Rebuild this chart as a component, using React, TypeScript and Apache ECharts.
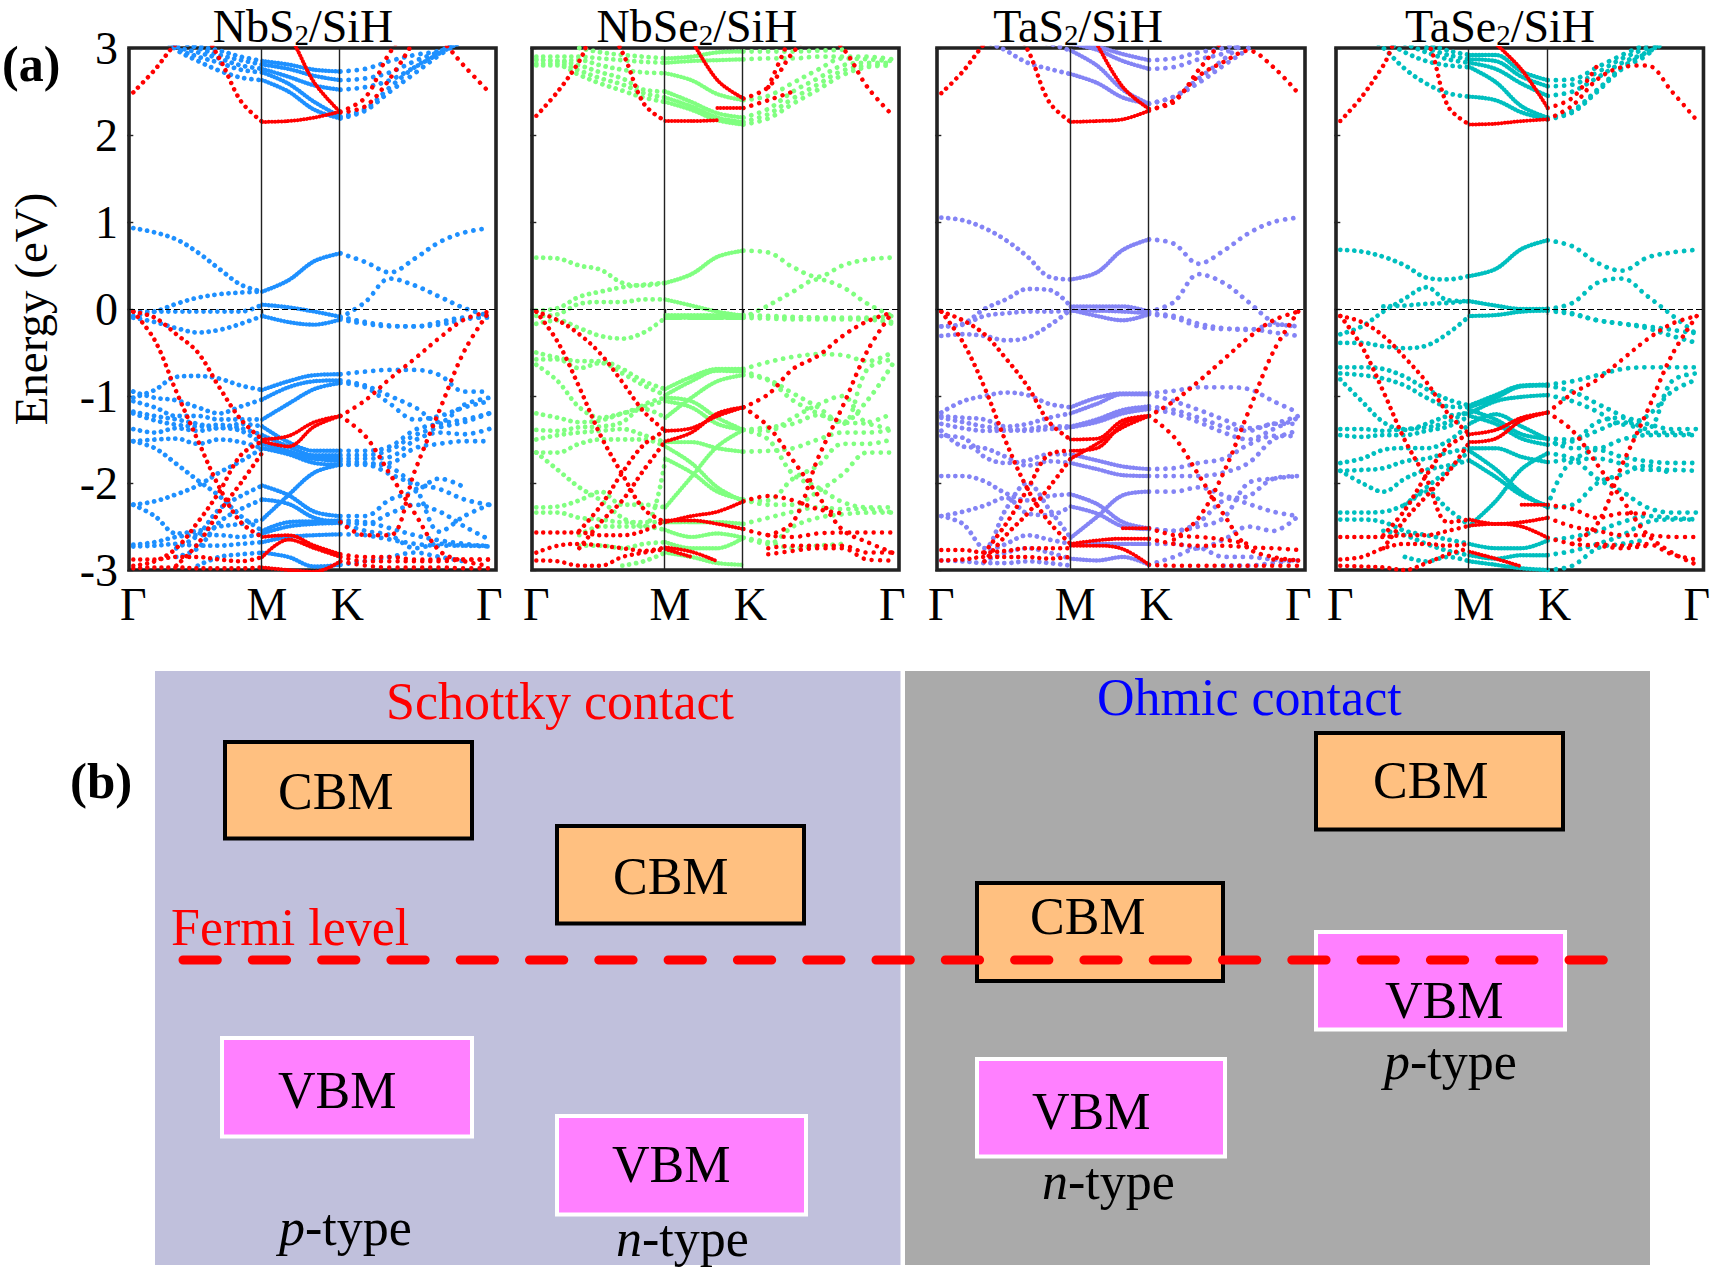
import React, { useEffect, useRef } from "react";
import * as echarts from "echarts";

const _ = null;
const SERIF = '"Liberation Serif"';

// k-path positions of the read values: Γ … M … K … Γ
const kNodes = [0, 0.0604, 0.1208, 0.1813, 0.2417, 0.3021, 0.3625, 0.4357, 0.5088, 0.582, 0.6517, 0.7213, 0.791, 0.8607, 0.9303, 1];
const kM = 0.3625;
const kK = 0.582;
const energyTicks = [-3, -2, -1, 0, 1, 2, 3];
const panelNames = ["NbS|2|/SiH", "NbSe|2|/SiH", "TaS|2|/SiH", "TaSe|2|/SiH"];

const nbs2Bands = [
  [3.3,3.2,2.98,2.85,2.74,2.66,2.63,2.5,2.29,2.19,2.28,2.5,2.71,2.92,3.1,3.3],
  [3.3,3.2,3.0,2.9,2.83,2.75,2.72,2.59,2.38,2.21,2.3,2.55,2.78,2.95,3.1,3.3],
  [3.4,3.2,3.02,2.95,2.88,2.8,2.76,2.67,2.57,2.52,2.55,2.63,2.78,2.94,3.1,3.3],
  [3.4,3.3,3.1,3.0,2.92,2.86,2.81,2.76,2.68,2.63,2.65,2.72,2.85,2.96,3.1,3.3],
  [3.4,3.3,3.1,3.02,2.97,2.9,2.85,2.81,2.75,2.73,2.76,2.85,2.92,2.97,3.1,3.3],
  [.93,.88,.8,.65,.46,.28,.2,.33,.55,.64,.54,.42,.58,.77,.88,.93],
  [-.08,-.03,.06,.13,.17,.19,.2,_,_,-.1,.08,.35,.27,.14,.01,-.08],
  [-.03,-.03,-.03,-.03,-.03,-.03,.05,.02,-.03,-.09,-.15,-.19,-.2,-.18,-.12,-.08],
  [-.1,-.15,-.22,-.27,-.24,-.17,-.08,-.15,-.18,-.12,-.17,-.2,-.2,-.15,-.1,-.1],
  [-1.02,-.93,-.78,-.77,-.8,-.88,-.93,-.83,-.76,-.75,-.72,-.7,-.7,-.76,-.95,-.95],
  [-.95,-1.02,-1.05,-1.13,-1.2,-1.12,-1.04,-.9,-.83,-.82,-.88,-1.0,-1.13,-1.3,-1.1,-1.02],
  [-1.06,-1.13,-1.23,-1.23,-1.27,-1.27,-1.27,-1.09,-.92,-.85,-.9,-1.09,-1.27,-1.23,-1.13,-1.06],
  [-1.18,-1.23,-1.27,-1.32,-1.37,-1.32,-1.35,-1.53,-1.63,-1.63,-1.63,-1.58,-1.39,-1.32,-1.27,-1.2],
  [-1.2,-1.28,-1.33,-1.35,-1.33,-1.37,-1.45,-1.58,-1.68,-1.68,-1.68,-1.62,-1.45,-1.36,-1.3,-1.2],
  [-1.38,-1.42,-1.37,-1.4,-1.37,-1.4,-1.55,-1.63,-1.72,-1.72,-1.72,-1.7,-1.51,-1.42,-1.44,-1.38],
  [-1.52,-1.5,-1.49,-1.55,-1.5,-1.53,-1.6,-1.67,-1.77,-1.79,-1.78,-1.77,-1.6,-1.55,-1.52,-1.52],
  [-1.52,-1.6,-1.78,-1.97,-2.15,-2.38,-2.55,-2.45,-2.44,-2.43,-2.45,-2.52,-2.6,-2.66,-2.7,-2.73],
  [-2.25,-2.21,-2.13,-2.03,-1.88,-1.75,-1.6,-1.65,-1.72,-1.75,-1.77,-1.82,-2.0,-2.07,-2.19,-2.25],
  [-2.25,-2.38,-2.58,-2.55,-2.5,-2.47,-2.42,-2.14,-1.88,-1.79,-1.79,-1.9,-2.05,-2.56,-2.38,-2.25],
  [_,_,-2.75,-2.6,-2.3,-2.15,-2.03,-2.14,-2.33,-2.38,-2.38,-2.19,-2.1,-1.95,-2.05,_],
  [_,_,-2.85,-2.75,-2.45,-2.3,-2.19,-2.24,-2.4,-2.45,-2.47,-2.35,-2.25,-2.33,-2.5,-2.65],
  [-2.73,-2.72,-2.7,-2.72,-2.72,-2.7,-2.68,-2.62,-2.6,-2.59,-2.6,-2.65,-2.7,-2.72,-2.72,-2.73],
  [-2.71,-2.68,-2.62,-2.6,-2.6,-2.62,-2.58,-2.5,-2.47,-2.46,-2.55,-2.6,-2.75,-2.7,-2.72,-2.72],
  [_,_,_,-2.95,-2.85,-2.82,-2.8,-2.85,-2.96,-2.94,-2.9,-2.85,-2.8,-2.85,-2.9,_],
];
const nbs2Red = [
  [2.49,2.75,3.05,3.2,2.88,2.39,2.15,2.16,2.2,2.27,2.43,2.95,3.25,3.1,2.79,2.49],
  [_,_,_,_,_,_,3.4,3.15,2.6,2.26,2.33,2.65,3.1,_,_,_],
  [-.03,-.1,-.29,-.5,-.9,-1.27,-1.5,-1.46,-1.3,-1.23,-1.05,-.8,-.57,-.33,-.12,-.03],
  [-.03,-.36,-.95,-1.51,-2.05,-2.45,-2.62,-2.6,-2.72,-2.82,-2.85,-2.85,-2.88,-2.88,-2.88,-2.88],
  [-2.95,-2.9,-2.75,-2.45,-2.1,-1.68,-1.52,-1.58,-1.35,-1.23,-1.46,-1.9,-2.35,-2.78,-2.9,-2.95],
  [_,_,-2.95,-2.7,-2.33,-2.0,-1.65,_,_,-2.45,-2.6,-2.6,-1.86,-1.16,-.48,-.03],
  [-2.88,-2.88,-2.85,-2.85,-2.88,-2.9,-2.85,-2.65,-2.75,-2.85,-2.9,-2.9,-2.9,-2.9,-2.88,-2.88],
  [-2.98,-2.97,-2.97,-2.98,-2.98,-2.98,-2.97,-3.0,-3.02,-2.9,-2.95,-2.97,-2.97,-2.97,-2.98,-2.98],
];

const nbse2Bands = [
  [2.8,2.8,2.69,2.59,2.51,2.43,2.38,2.29,2.17,2.12,2.19,2.36,2.52,2.69,2.78,2.8],
  [2.82,2.82,2.74,2.65,2.58,2.48,2.43,2.33,2.2,2.15,2.24,2.42,2.58,2.74,2.8,2.82],
  [2.86,2.85,2.8,2.72,2.65,2.52,2.5,2.38,2.25,2.2,2.3,2.5,2.65,2.8,2.83,2.83],
  [2.87,2.85,2.86,2.8,2.75,2.72,2.71,2.63,2.47,2.4,2.45,2.6,2.75,2.88,2.87,2.85],
  [2.9,2.9,2.9,2.88,2.86,2.84,2.83,2.85,2.86,2.87,2.88,2.88,2.9,2.9,2.9,2.87],
  [_,_,3.0,2.95,2.92,2.9,2.88,2.9,2.95,2.96,2.96,2.96,2.97,2.98,_,_],
  [.59,.58,.5,.45,.3,.27,.3,.4,.6,.67,.65,.48,.37,.5,.57,.59],
  [-.02,.01,.14,.2,.25,.28,.3,_,_,-.1,.04,.2,.34,.25,.06,-.08],
  [-.08,-.06,.06,.08,.08,.11,.11,.04,-.03,-.08,-.09,-.1,-.1,-.1,-.1,-.08],
  [-.17,-.13,-.22,-.31,-.34,-.27,-.1,-.1,-.1,-.1,-.11,-.12,-.12,-.12,-.12,-.17],
  [_,_,_,_,_,_,-.07,-.07,-.07,-.07,-.08,-.09,-.1,-.11,-.11,-.15],
  [-.5,-.56,-.6,-.6,-.69,-.83,-.92,-.78,-.69,-.69,-.61,-.55,-.52,-.53,-.6,-.5],
  [-.58,-.58,-.68,-.62,-.74,-.88,-.99,-.83,-.71,-.72,-.81,-.97,-1.13,-1.32,-.69,-.58],
  [-.64,-.83,-1.13,-1.25,-1.2,-1.15,-1.25,-1.02,-.83,-.76,-.82,-1.05,-1.2,-1.3,-1.05,-.64],
  [-1.2,-1.25,-1.3,-1.28,-1.2,-1.12,-1.06,-1.13,-1.32,-1.39,-1.4,-1.25,-1.1,-1.0,-1.3,-1.2],
  [-1.39,-1.4,-1.36,-1.35,-1.3,-1.1,-1.02,-1.06,-1.25,-1.39,-1.36,-1.32,-1.22,-1.3,-1.32,-1.39],
  [-1.5,-1.45,-1.42,-1.4,-1.38,-1.45,-1.53,-1.53,-1.6,-1.64,-1.63,-1.6,-1.5,-1.42,-1.42,-1.39],
  [-1.65,-1.65,-1.55,-1.5,-1.5,-1.5,-1.58,-1.77,-2.05,-2.21,-2.2,-1.95,-1.8,-1.55,-1.55,-1.5],
  [-1.65,-1.85,-2.05,-2.2,-2.4,-2.5,-1.72,-1.88,-2.1,-2.19,-2.25,-2.25,-2.1,-1.9,-1.65,-1.65],
  [-2.28,-2.27,-2.2,-2.1,-2.25,-2.25,-2.28,-1.93,-1.58,-1.39,-1.5,-1.9,-2.05,-2.22,-2.28,-2.28],
  [-2.34,-2.34,-2.4,-2.42,-2.45,-2.45,-2.45,-2.45,-2.45,-2.47,-2.4,-2.33,-2.28,-2.3,-2.3,-2.34],
  [_,_,-2.6,-2.5,-2.5,-2.5,-2.54,-2.62,-2.58,-2.63,-2.7,-2.5,-2.4,-2.36,-2.34,-2.34],
  [_,_,-2.72,-2.72,-2.75,-2.7,-2.68,-2.75,-2.75,-2.63,-2.68,-2.75,-2.72,-2.7,_,_],
  [_,_,_,_,-2.95,-2.9,-2.8,-2.85,-2.92,-2.94,_,-2.98,_,_,_,_],
];
const nbse2Red = [
  [2.22,2.5,2.85,3.3,2.95,2.36,2.16,2.16,2.17,_,2.55,3.2,_,_,_,_],
  [_,_,_,_,_,_,_,_,2.31,2.31,2.4,2.5,_,_,_,_],
  [_,_,_,_,_,_,_,3.1,2.63,2.42,2.55,2.95,3.2,3.0,2.55,2.23],
  [-.03,-.13,-.29,-.52,-.84,-1.18,-1.4,-1.37,-1.23,-1.13,-.98,-.69,-.54,-.31,-.14,-.04],
  [-.03,-.38,-.9,-1.46,-1.9,-2.3,-2.45,-2.38,-2.33,-2.21,-2.15,-2.2,-2.3,-2.35,_,_],
  [_,_,-2.55,-2.26,-1.88,-1.56,-1.4,_,_,-1.13,-1.35,-1.74,-2.14,-2.54,-2.68,-2.8],
  [_,_,-2.75,-2.45,-2.2,-1.85,-1.52,-1.42,-1.2,-1.13,_,_,_,_,_,_],
  [_,_,_,_,_,_,_,_,_,_,-2.6,-2.45,-1.72,-1.12,-.48,-.04],
  [-2.57,-2.57,-2.57,-2.6,-2.6,-2.55,-2.43,-2.43,-2.47,-2.53,-2.6,-2.62,-2.58,-2.57,-2.57,-2.57],
  [-2.8,-2.72,-2.7,-2.72,-2.75,-2.78,-2.74,-2.79,-2.9,_,-2.75,-2.72,-2.72,-2.72,-2.8,-2.8],
  [-2.89,-2.9,-2.95,-2.95,-2.85,-2.8,-2.76,-2.85,_,_,-2.82,-2.78,-2.75,-2.75,-2.88,-2.89],
];

const tas2Bands = [
  [3.5,3.35,3.1,2.97,2.83,2.76,2.7,2.6,2.43,2.36,2.44,2.6,2.8,3.0,3.3,3.5],
  [3.5,3.4,3.3,3.2,3.1,3.05,2.97,2.8,2.52,2.36,2.44,2.65,2.87,3.1,_,_],
  [_,_,_,_,_,3.15,3.05,2.98,2.85,2.76,2.78,2.87,2.94,3.1,_,_],
  [_,_,_,_,_,3.2,3.1,3.02,2.93,2.86,2.88,2.95,3.0,3.1,_,_],
  [1.05,1.02,.93,.79,.6,.37,.34,.42,.68,.8,.75,.52,.67,.87,1.0,1.05],
  [-.2,-.17,0,.11,.23,.22,.03,.03,.03,-.03,.08,.4,.3,.08,-.15,-.2],
  [-.31,-.29,-.31,-.36,-.33,-.19,-.01,-.08,-.13,-.06,-.1,-.2,-.23,-.23,-.27,-.31],
  [-.2,-.18,-.08,-.05,-.03,-.03,-.02,-.02,-.03,-.05,-.08,-.17,-.22,-.24,-.18,-.2],
  [-1.19,-1.06,-1.0,-.96,-.99,-1.09,-1.13,-1.02,-.97,-.97,-.94,-.9,-.9,-.92,-1.06,-1.19],
  [-1.23,-1.25,-1.27,-1.35,-1.32,-1.25,-1.2,-1.09,-.98,-.98,-1.06,-1.16,-1.27,-1.37,-1.32,-1.23],
  [-1.32,-1.37,-1.4,-1.4,-1.38,-1.35,-1.35,-1.27,-1.16,-1.12,-1.16,-1.25,-1.35,-1.4,-1.32,-1.32],
  [-1.25,-1.3,-1.35,-1.38,-1.4,-1.38,-1.36,-1.3,-1.2,-1.15,-1.2,-1.3,-1.42,-1.5,-1.38,-1.25],
  [-1.46,-1.48,-1.7,-1.77,-1.74,-1.67,-1.67,-1.74,-1.81,-1.84,-1.83,-1.77,-1.72,-1.56,-1.46,-1.46],
  [-1.4,-1.58,-1.6,-1.7,-1.8,-1.75,-1.77,-1.84,-1.91,-1.92,-1.92,-1.92,-1.88,-1.77,-1.5,-1.4],
  [-1.92,-1.92,-1.98,-2.12,-2.2,-2.15,-2.13,-2.24,-2.45,-2.52,-2.55,-2.5,-2.4,-2.0,-1.95,-1.92],
  [-2.38,-2.33,-2.26,-2.17,-2.35,-2.37,-2.27,-2.35,-2.5,-2.53,-2.55,-2.45,-2.2,-2.15,-1.95,-1.92],
  [-2.38,-2.47,-2.75,-2.3,-2.0,-2.3,-2.63,-2.39,-2.14,-2.1,-2.1,-2.05,-2.14,-2.24,-2.33,-2.38],
  [_,_,-2.8,-2.7,-2.6,-2.65,-2.7,-2.7,-2.7,-2.7,-2.7,-2.75,-2.65,-2.5,-2.55,-2.38],
  [_,_,-2.9,-2.8,-2.75,-2.8,-2.87,-2.89,-2.85,-2.94,-2.85,-2.75,-2.85,-2.85,-2.88,-2.89],
  [-2.89,-2.9,-2.92,-2.92,-2.9,-2.92,-2.95,_,_,_,_,_,-2.95,-2.95,-2.92,-2.89],
];
const tas2Red = [
  [2.48,2.73,3.05,3.3,2.98,2.38,2.15,2.16,2.18,2.28,2.4,2.68,2.84,2.97,2.78,2.48],
  [_,_,_,_,_,_,_,3.05,2.55,2.3,2.38,2.75,3.1,_,_,_],
  [-.03,-.13,-.29,-.57,-.89,-1.3,-1.5,-1.49,-1.28,-1.23,-1.06,-.83,-.58,-.33,-.13,-.03],
  [-.03,-.38,-.9,-1.53,-2.07,-2.45,-2.7,-2.66,-2.64,-2.64,-2.7,-2.72,-2.72,-2.74,-2.75,-2.77],
  [_,_,-2.8,-2.47,-2.07,-1.67,-1.63,-1.6,-1.32,-1.23,-1.47,-1.91,-2.36,-2.75,-2.85,-2.89],
  [_,_,-2.9,-2.6,-2.35,-2.05,-1.72,-1.55,-1.36,-1.23,_,_,_,_,_,_],
  [_,_,_,_,_,_,_,_,_,_,-2.65,-2.4,-1.88,-1.18,-.49,-.03],
  [_,_,_,_,_,_,-2.72,-2.72,-2.76,-2.94,-2.95,-2.95,-2.95,-2.95,-2.95,-2.95],
  [_,_,_,_,_,_,_,_,-2.52,-2.52,-2.6,-2.62,-2.65,-2.7,_,_],
  [-2.77,-2.77,-2.8,-2.78,-2.75,-2.75,-2.75,_,_,_,_,_,_,_,_,_],
  [-2.89,-2.88,-2.85,-2.85,-2.85,-2.87,-2.85,_,_,_,_,_,_,_,-2.88,-2.89],
];

const tase2Bands = [
  [3.4,3.2,3.0,2.76,2.59,2.48,2.44,2.4,2.26,2.18,2.26,2.5,2.76,2.92,3.2,3.4],
  [3.4,3.3,3.1,2.95,2.85,2.8,2.78,2.61,2.33,2.2,2.28,2.52,2.78,2.95,3.2,3.4],
  [_,_,_,3.05,2.95,2.87,2.83,2.76,2.59,2.45,2.5,2.66,2.83,2.95,3.1,_],
  [_,_,_,_,3.0,2.92,2.87,2.85,2.67,2.56,2.58,2.72,2.88,3.0,_,_],
  [_,_,_,_,3.05,2.97,2.92,2.92,2.73,2.63,2.64,2.78,2.92,3.05,_,_],
  [.68,.66,.6,.5,.36,.34,.38,.46,.69,.79,.72,.53,.44,.59,.65,.68],
  [-.29,-.2,-.03,.12,.25,.1,.09,_,_,0,.07,.3,.35,.15,-.07,-.29],
  [_,_,.03,.04,.06,.07,.09,.04,0,0,-.05,-.13,-.17,-.2,-.24,-.28],
  [-.39,-.39,-.43,-.45,-.42,-.28,-.08,-.07,-.03,-.02,-.06,-.13,-.17,-.22,-.31,-.39],
  [-.67,-.67,-.69,-.78,-.92,-1.04,-1.11,-.99,-.88,-.87,-.83,-.76,-.69,-.67,-.67,-.67],
  [-.74,-.76,-.8,-.88,-1.02,-1.12,-1.13,-1.02,-.89,-.88,-.95,-1.09,-1.23,-1.38,-.83,-.74],
  [-.81,-1.06,-1.3,-1.39,-1.32,-1.23,-1.2,-1.06,-1.01,-.99,-1.06,-1.18,-1.33,-1.23,-.95,-.81],
  [-1.38,-1.38,-1.4,-1.38,-1.36,-1.3,-1.16,-1.27,-1.44,-1.49,-1.5,-1.3,-1.25,-1.32,-1.38,-1.38],
  [-1.45,-1.47,-1.45,-1.45,-1.4,-1.35,-1.23,-1.32,-1.49,-1.56,-1.52,-1.4,-1.3,-1.42,-1.42,-1.45],
  [-1.77,-1.72,-1.62,-1.6,-1.6,-1.52,-1.32,-1.21,-1.35,-1.5,-1.6,-1.6,-1.5,-1.45,-1.45,-1.45],
  [-1.86,-1.85,-1.83,-1.75,-1.72,-1.65,-1.6,-1.6,-1.7,-1.76,-1.72,-1.62,-1.7,-1.75,-1.77,-1.77],
  [-1.86,-2.0,-2.1,-1.95,-1.85,-1.8,-1.74,-1.93,-2.14,-2.26,-1.75,-1.72,-1.78,-1.85,-1.85,-1.86],
  [_,_,_,-2.25,-2.05,-1.85,-1.63,-1.84,-2.11,-2.28,-2.25,-2.0,-1.9,-1.8,-1.9,_],
  [-2.34,-2.34,-2.33,-2.25,-2.1,-2.3,-2.49,-2.21,-1.84,-1.66,-1.72,-1.95,-2.1,-2.28,-2.34,-2.34],
  [-2.42,-2.42,-2.45,-2.55,-2.6,-2.65,-2.7,-2.75,-2.75,-2.66,-2.62,-2.55,-2.45,-2.38,-2.4,-2.42],
  [_,_,-2.55,-2.6,-2.7,-2.78,-2.83,-2.87,-2.83,-2.83,-2.78,-2.7,-2.6,-2.45,-2.42,-2.42],
  [_,_,_,-2.85,-2.9,-2.85,-2.9,-2.94,-2.98,-3.0,-2.95,-2.75,-2.7,-2.65,_,_],
];
const tase2Red = [
  [2.16,2.44,2.8,3.2,3.1,2.33,2.12,2.13,2.16,2.18,2.34,2.64,2.78,2.8,2.5,2.17],
  [_,_,_,_,_,_,_,3.05,2.75,2.31,2.43,2.8,_,_,_,_],
  [-.08,-.15,-.31,-.56,-.84,-1.2,-1.44,-1.39,-1.25,-1.19,-.97,-.81,-.58,-.35,-.17,-.08],
  [-.08,-.43,-.95,-1.51,-1.95,-2.45,-2.42,-2.47,-2.45,-2.4,-2.5,-2.55,-2.6,-2.6,-2.62,-2.62],
  [_,_,-2.6,-2.31,-1.91,-1.58,-1.44,_,_,-1.19,-1.4,-1.79,-2.19,-2.59,-2.8,-2.94],
  [_,_,-2.75,-2.42,-2.15,-1.88,-1.53,-1.49,-1.28,-1.19,_,_,_,_,_,_],
  [_,_,_,_,_,_,_,_,_,_,-2.7,-2.47,-1.79,-1.18,-.53,-.08],
  [-2.62,-2.62,-2.62,-2.6,-2.6,-2.55,-2.49,-2.47,-2.5,-2.63,-2.7,-2.72,-2.75,-2.72,_,_],
  [_,_,_,_,_,_,-2.79,-2.87,-2.96,_,_,-2.7,-2.72,-2.7,-2.82,-2.88],
  [_,_,_,_,_,_,_,_,-2.25,-2.25,-2.3,-2.4,-2.35,-2.35,_,_],
  [-2.88,-2.85,-2.75,-2.7,-2.7,-2.72,-2.7,_,_,_,_,_,_,_,_,_],
  [-2.95,-2.96,-2.97,-3.0,-2.92,-2.82,-2.75,_,_,_,_,_,_,_,_,_],
];

const panelBands = [nbs2Bands, nbse2Bands, tas2Bands, tase2Bands];
const panelReds = [nbs2Red, nbse2Red, tas2Red, tase2Red];
const panelColors = ["#1E90FF", "#80FF80", "#8484F5", "#00BFBF"];
const gridLefts = [129, 532, 937, 1336];
const gridWidths = [367, 367, 368, 368];
const titleCenters = [301, 695, 1076, 1498];

const numFont = 46;
const tokens = {
  n: { fontFamily: SERIF, fontWeight: "normal", fontSize: 46, color: "#000", lineHeight: 46, verticalAlign: "top" },
  s: { fontFamily: SERIF, fontWeight: "normal", fontSize: 29, color: "#000", lineHeight: 22, verticalAlign: "bottom" },
};

function segmentSeries(values: (number | null)[], from: number, to: number, panel: number, color: string, period: number, width: number, z: number) {
  const part: any[] = [];
  for (let i = from; i <= to; i++) part.push([kNodes[i], values[i]]);
  if (part.filter((p) => p[1] !== null).length < 2) return null;
  return {
    type: "line",
    xAxisIndex: panel,
    yAxisIndex: panel,
    data: part,
    silent: true,
    showSymbol: false,
    symbol: "none",
    smooth: 0.35,
    z,
    lineStyle: { color, width, type: [0.01, period], cap: "round" },
  };
}

function buildSeries() {
  const out: any[] = [];
  panelBands.forEach((bands, p) => {
    bands.forEach((b) => {
      out.push(segmentSeries(b, 0, 6, p, panelColors[p], 7, 4.8, 2));
      out.push(segmentSeries(b, 6, 9, p, panelColors[p], 3.2, 4.4, 2));
      out.push(segmentSeries(b, 9, 15, p, panelColors[p], 8.2, 4.8, 2));
    });
    panelReds[p].forEach((b) => {
      out.push(segmentSeries(b, 0, 6, p, "#FF0000", 7, 4.5, 3));
      out.push(segmentSeries(b, 6, 9, p, "#FF0000", 3.2, 4, 3));
      out.push(segmentSeries(b, 9, 15, p, "#FF0000", 8.2, 4.5, 3));
    });
    out.push({
      type: "line",
      xAxisIndex: p,
      yAxisIndex: p,
      data: [[0, 0]],
      silent: true,
      symbol: "none",
      z: 4,
      lineStyle: { width: 0 },
      markLine: {
        silent: true,
        symbol: "none",
        label: { show: false },
        animation: false,
        data: [
          { xAxis: kM, lineStyle: { color: "#222", width: 1.4, type: "solid" } },
          { xAxis: kK, lineStyle: { color: "#222", width: 1.4, type: "solid" } },
          { yAxis: 0, lineStyle: { color: "#000", width: 1.2, type: [6, 3] } },
        ],
      },
    });
  });
  return out.filter(Boolean);
}

const bgRects = [
  { x0: 155, y0: 671, x1: 900.5, y1: 1265, fill: "#C0C0DC" },
  { x0: 905, y0: 671, x1: 1650, y1: 1265, fill: "#AAAAAA" },
];
const cbmBoxes = [
  { x0: 223, y0: 740, x1: 474, y1: 840.5 },
  { x0: 555, y0: 824, x1: 806, y1: 925.5 },
  { x0: 975, y0: 881, x1: 1225, y1: 983 },
  { x0: 1314, y0: 731, x1: 1565, y1: 831.5 },
];
const vbmBoxes = [
  { x0: 220, y0: 1036, x1: 474, y1: 1138.5 },
  { x0: 555, y0: 1114, x1: 808, y1: 1216.5 },
  { x0: 1314, y0: 930, x1: 1567, y1: 1031.5 },
  { x0: 975, y0: 1057, x1: 1227, y1: 1158.5 },
];
const plainLabels = [
  { t: "Schottky contact", x: 386, b: 719, s: 52, c: "#FF0000" },
  { t: "Ohmic contact", x: 1097, b: 715, s: 52, c: "#0000FF" },
  { t: "Fermi level", x: 171, b: 945, s: 52, c: "#FF0000" },
  { t: "CBM", x: 278, b: 809, s: 52, c: "#000" },
  { t: "CBM", x: 613, b: 894, s: 52, c: "#000" },
  { t: "CBM", x: 1030, b: 934, s: 52, c: "#000" },
  { t: "CBM", x: 1373, b: 798, s: 52, c: "#000" },
  { t: "VBM", x: 278, b: 1108, s: 52, c: "#000" },
  { t: "VBM", x: 612, b: 1182, s: 52, c: "#000" },
  { t: "VBM", x: 1385, b: 1018, s: 52, c: "#000" },
  { t: "VBM", x: 1032, b: 1129, s: 52, c: "#000" },
];
const typeLabels = [
  { i: "p", x: 279, b: 1245 },
  { i: "n", x: 616, b: 1256 },
  { i: "p", x: 1384, b: 1079 },
  { i: "n", x: 1042, b: 1199 },
];

function textAt(t: string, x: number, baseline: number, size: number, color: string, weight: any = "normal") {
  return {
    type: "text",
    z: 10,
    x,
    y: baseline - size * 0.3375,
    style: { text: t, fill: color, fontFamily: SERIF, fontSize: size, fontWeight: weight, textAlign: "left", textVerticalAlign: "middle" },
  };
}

function buildGraphic() {
  const els: any[] = [];
  bgRects.forEach((r) => els.push({ type: "rect", z: 1, shape: { x: r.x0, y: r.y0, width: r.x1 - r.x0, height: r.y1 - r.y0 }, style: { fill: r.fill } }));
  cbmBoxes.forEach((r) => els.push({ type: "rect", z: 2, shape: { x: r.x0 + 2, y: r.y0 + 2, width: r.x1 - r.x0 - 4, height: r.y1 - r.y0 - 4 }, style: { fill: "#FFC080", stroke: "#000", lineWidth: 4 } }));
  vbmBoxes.forEach((r) => els.push({ type: "rect", z: 2, shape: { x: r.x0 + 2, y: r.y0 + 2, width: r.x1 - r.x0 - 4, height: r.y1 - r.y0 - 4 }, style: { fill: "#FF80FF", stroke: "#FFF", lineWidth: 4 } }));
  els.push({ type: "line", z: 5, shape: { x1: 183, y1: 960, x2: 1604, y2: 960 }, style: { stroke: "#FF0000", lineWidth: 9, lineDash: [34.3, 35], lineCap: "round" } });
  plainLabels.forEach((l) => els.push(textAt(l.t, l.x, l.b, l.s, l.c)));
  typeLabels.forEach((l) =>
    els.push({
      type: "text",
      z: 10,
      x: l.x,
      y: l.b - 52 * 0.3375,
      style: {
        text: `{i|${l.i}}{n|-type}`,
        textAlign: "left",
        textVerticalAlign: "middle",
        rich: {
          i: { fontFamily: SERIF, fontSize: 52, fontStyle: "italic", fill: "#000", color: "#000" },
          n: { fontFamily: SERIF, fontSize: 52, fill: "#000", color: "#000" },
        },
      },
    })
  );
  els.push(textAt("(a)", 2, 81, 50, "#000", "bold"));
  els.push(textAt("(b)", 70, 798, 51, "#000", "bold"));
  return els;
}

function buildOption() {
  const xLabel = (v: number) => (v === kM ? "{m|M}" : v === kK ? "{k|K}" : "{g|Γ}");
  const labelRich = {
    m: { fontFamily: SERIF, fontSize: numFont, color: "#000", padding: [0, 0, 0, 9] },
    k: { fontFamily: SERIF, fontSize: numFont, color: "#000", padding: [0, 0, 0, 14] },
    g: { fontFamily: SERIF, fontSize: numFont, color: "#000" },
  };
  return {
    animation: false,
    backgroundColor: "#fff",
    title: panelNames.map((n, i) => {
      const [a, b, c] = n.split("|");
      return { text: `{n|${a}}{s|${b}}{n|${c}}`, left: titleCenters[i] + 2, top: 3, padding: 0, textAlign: "center", textStyle: { fontWeight: "normal", rich: tokens } };
    }),
    grid: gridLefts.map((left, i) => ({ left, top: 48, width: gridWidths[i], height: 522, show: true, borderColor: "#222", borderWidth: 3.6, backgroundColor: "transparent" })),
    xAxis: gridLefts.map((_l, i) => ({
      type: "value",
      gridIndex: i,
      min: -0.0121,
      max: 1.019,
      axisLine: { show: false },
      splitLine: { show: false },
      axisTick: { show: true, customValues: [kM, kK], length: 6, lineStyle: { color: "#222", width: 1.4 } },
      axisLabel: { show: true, customValues: [0, kM, kK, 1], formatter: xLabel, margin: 11, rich: labelRich, hideOverlap: false, showMinLabel: true, showMaxLabel: true },
    })),
    yAxis: gridLefts.map((_l, i) => ({
      type: "value",
      gridIndex: i,
      min: -3,
      max: 3,
      interval: 1,
      axisLine: { show: false },
      splitLine: { show: false },
      axisTick: { show: true, length: 6, lineStyle: { color: "#222", width: 1.4 } },
      axisLabel: { show: i === 0, margin: 11, fontFamily: SERIF, fontSize: numFont, color: "#000", customValues: energyTicks, formatter: (v: number) => String(v) },
      name: i === 0 ? "Energy (eV)" : "",
      nameLocation: "middle",
      nameRotate: 90,
      nameGap: 75,
      nameTextStyle: { fontFamily: SERIF, fontSize: 47, color: "#000" },
    })),
    graphic: { elements: buildGraphic() },
    series: buildSeries(),
  };
}

export default function App() {
  const ref = useRef<HTMLDivElement>(null);
  useEffect(() => {
    const chart = echarts.init(ref.current!, null, { renderer: "svg" });
    chart.setOption(buildOption() as any);
    return () => chart.dispose();
  }, []);
  return <div ref={ref} style={{ position: "absolute", left: 0, top: 0, width: 1713, height: 1269, background: "#fff" }} />;
}
